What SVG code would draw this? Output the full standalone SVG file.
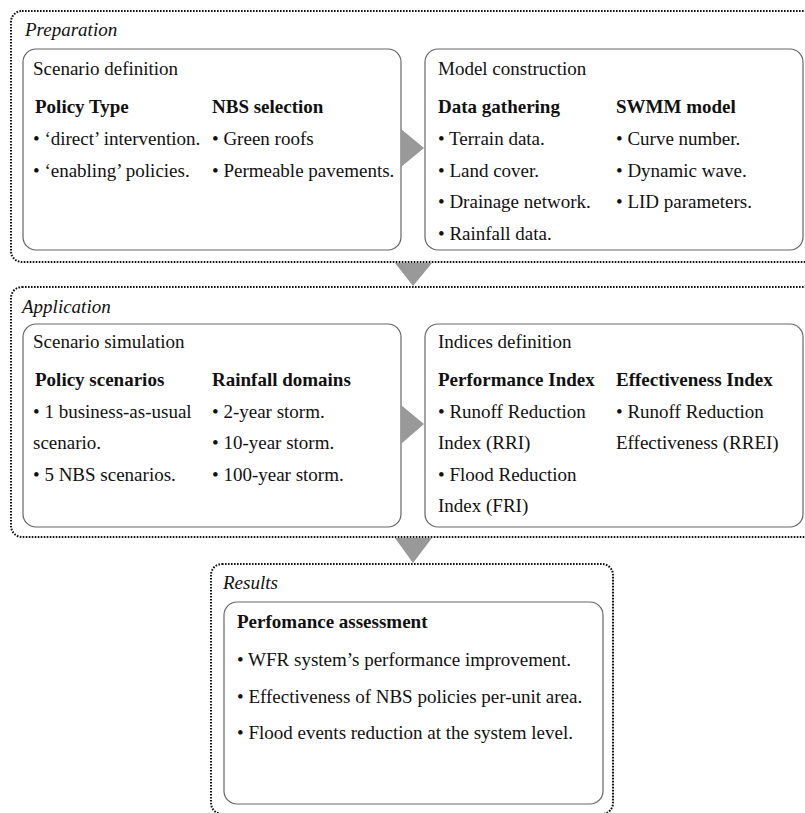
<svg xmlns="http://www.w3.org/2000/svg" width="805" height="813" viewBox="0 0 805 813">
<style>
.stage{fill:none;stroke:#111;stroke-width:2;stroke-dasharray:1.6 1.4}
.box{fill:#fff;stroke:#666;stroke-width:1.2}
.arr{fill:#999;stroke:none}
text{font-family:"Liberation Serif","Times New Roman",serif;font-size:19px;fill:#111}
.it{font-style:italic}
.b{font-weight:bold}
</style>
<rect x="0" y="0" width="805" height="813" fill="#fff"/>
<g id="preparation">
<rect class="stage" x="11" y="11" width="810" height="251" rx="11"/>
<text class="it" x="25" y="36">Preparation</text>
</g>
<g id="application">
<rect class="stage" x="11" y="287" width="810" height="250" rx="11"/>
<text class="it" x="22" y="313">Application</text>
</g>
<g id="results">
<rect class="stage" x="211" y="564" width="402" height="250" rx="11"/>
<text class="it" x="223" y="589">Results</text>
</g>
<g id="scenario-definition">
<rect class="box" x="23" y="49" width="378" height="201" rx="13"/>
<text x="33" y="75">Scenario definition</text>
<text class="b" x="35" y="113">Policy Type</text>
<text x="33" y="145">• ‘direct’ intervention.</text>
<text x="33" y="177">• ‘enabling’ policies.</text>
<text class="b" x="212" y="113">NBS selection</text>
<text x="212" y="145">• Green roofs</text>
<text x="212" y="177">• Permeable pavements.</text>
</g>
<g id="model-construction">
<rect class="box" x="425" y="49" width="378" height="201" rx="13"/>
<text x="438" y="75">Model construction</text>
<text class="b" x="438" y="113">Data gathering</text>
<text x="438" y="145">• Terrain data.</text>
<text x="438" y="177">• Land cover.</text>
<text x="438" y="208">• Drainage network.</text>
<text x="438" y="240">• Rainfall data.</text>
<text class="b" x="616" y="113">SWMM model</text>
<text x="616" y="145">• Curve number.</text>
<text x="616" y="177">• Dynamic wave.</text>
<text x="616" y="208">• LID parameters.</text>
</g>
<g id="scenario-simulation">
<rect class="box" x="23" y="324" width="378" height="203" rx="13"/>
<text x="33" y="348">Scenario simulation</text>
<text class="b" x="35" y="386">Policy scenarios</text>
<text x="33" y="418">• 1 business-as-usual</text>
<text x="33" y="449">scenario.</text>
<text x="33" y="481">• 5 NBS scenarios.</text>
<text class="b" x="212" y="386">Rainfall domains</text>
<text x="212" y="418">• 2-year storm.</text>
<text x="212" y="449">• 10-year storm.</text>
<text x="212" y="481">• 100-year storm.</text>
</g>
<g id="indices-definition">
<rect class="box" x="425" y="324" width="378" height="203" rx="13"/>
<text x="438" y="348">Indices definition</text>
<text class="b" x="438" y="386">Performance Index</text>
<text x="438" y="418">• Runoff Reduction</text>
<text x="438" y="449">Index (RRI)</text>
<text x="438" y="481">• Flood Reduction</text>
<text x="438" y="512">Index (FRI)</text>
<text class="b" x="616" y="386">Effectiveness Index</text>
<text x="616" y="418">• Runoff Reduction</text>
<text x="616" y="449">Effectiveness (RREI)</text>
</g>
<g id="performance-assessment">
<rect class="box" x="224" y="602" width="379" height="202" rx="13"/>
<text class="b" x="237" y="628">Perfomance assessment</text>
<text x="237" y="666">• WFR system’s performance improvement.</text>
<text x="237" y="703">• Effectiveness of NBS policies per-unit area.</text>
<text x="237" y="739">• Flood events reduction at the system level.</text>
</g>
<g id="connectors">
<polygon class="arr" points="401,129 401,167 424,148"/>
<polygon class="arr" points="401,405 401,444 424,424"/>
<polygon class="arr" points="395,263 432,263 413,286"/>
<polygon class="arr" points="395,538 432,538 413,563"/>
</g>
</svg>
